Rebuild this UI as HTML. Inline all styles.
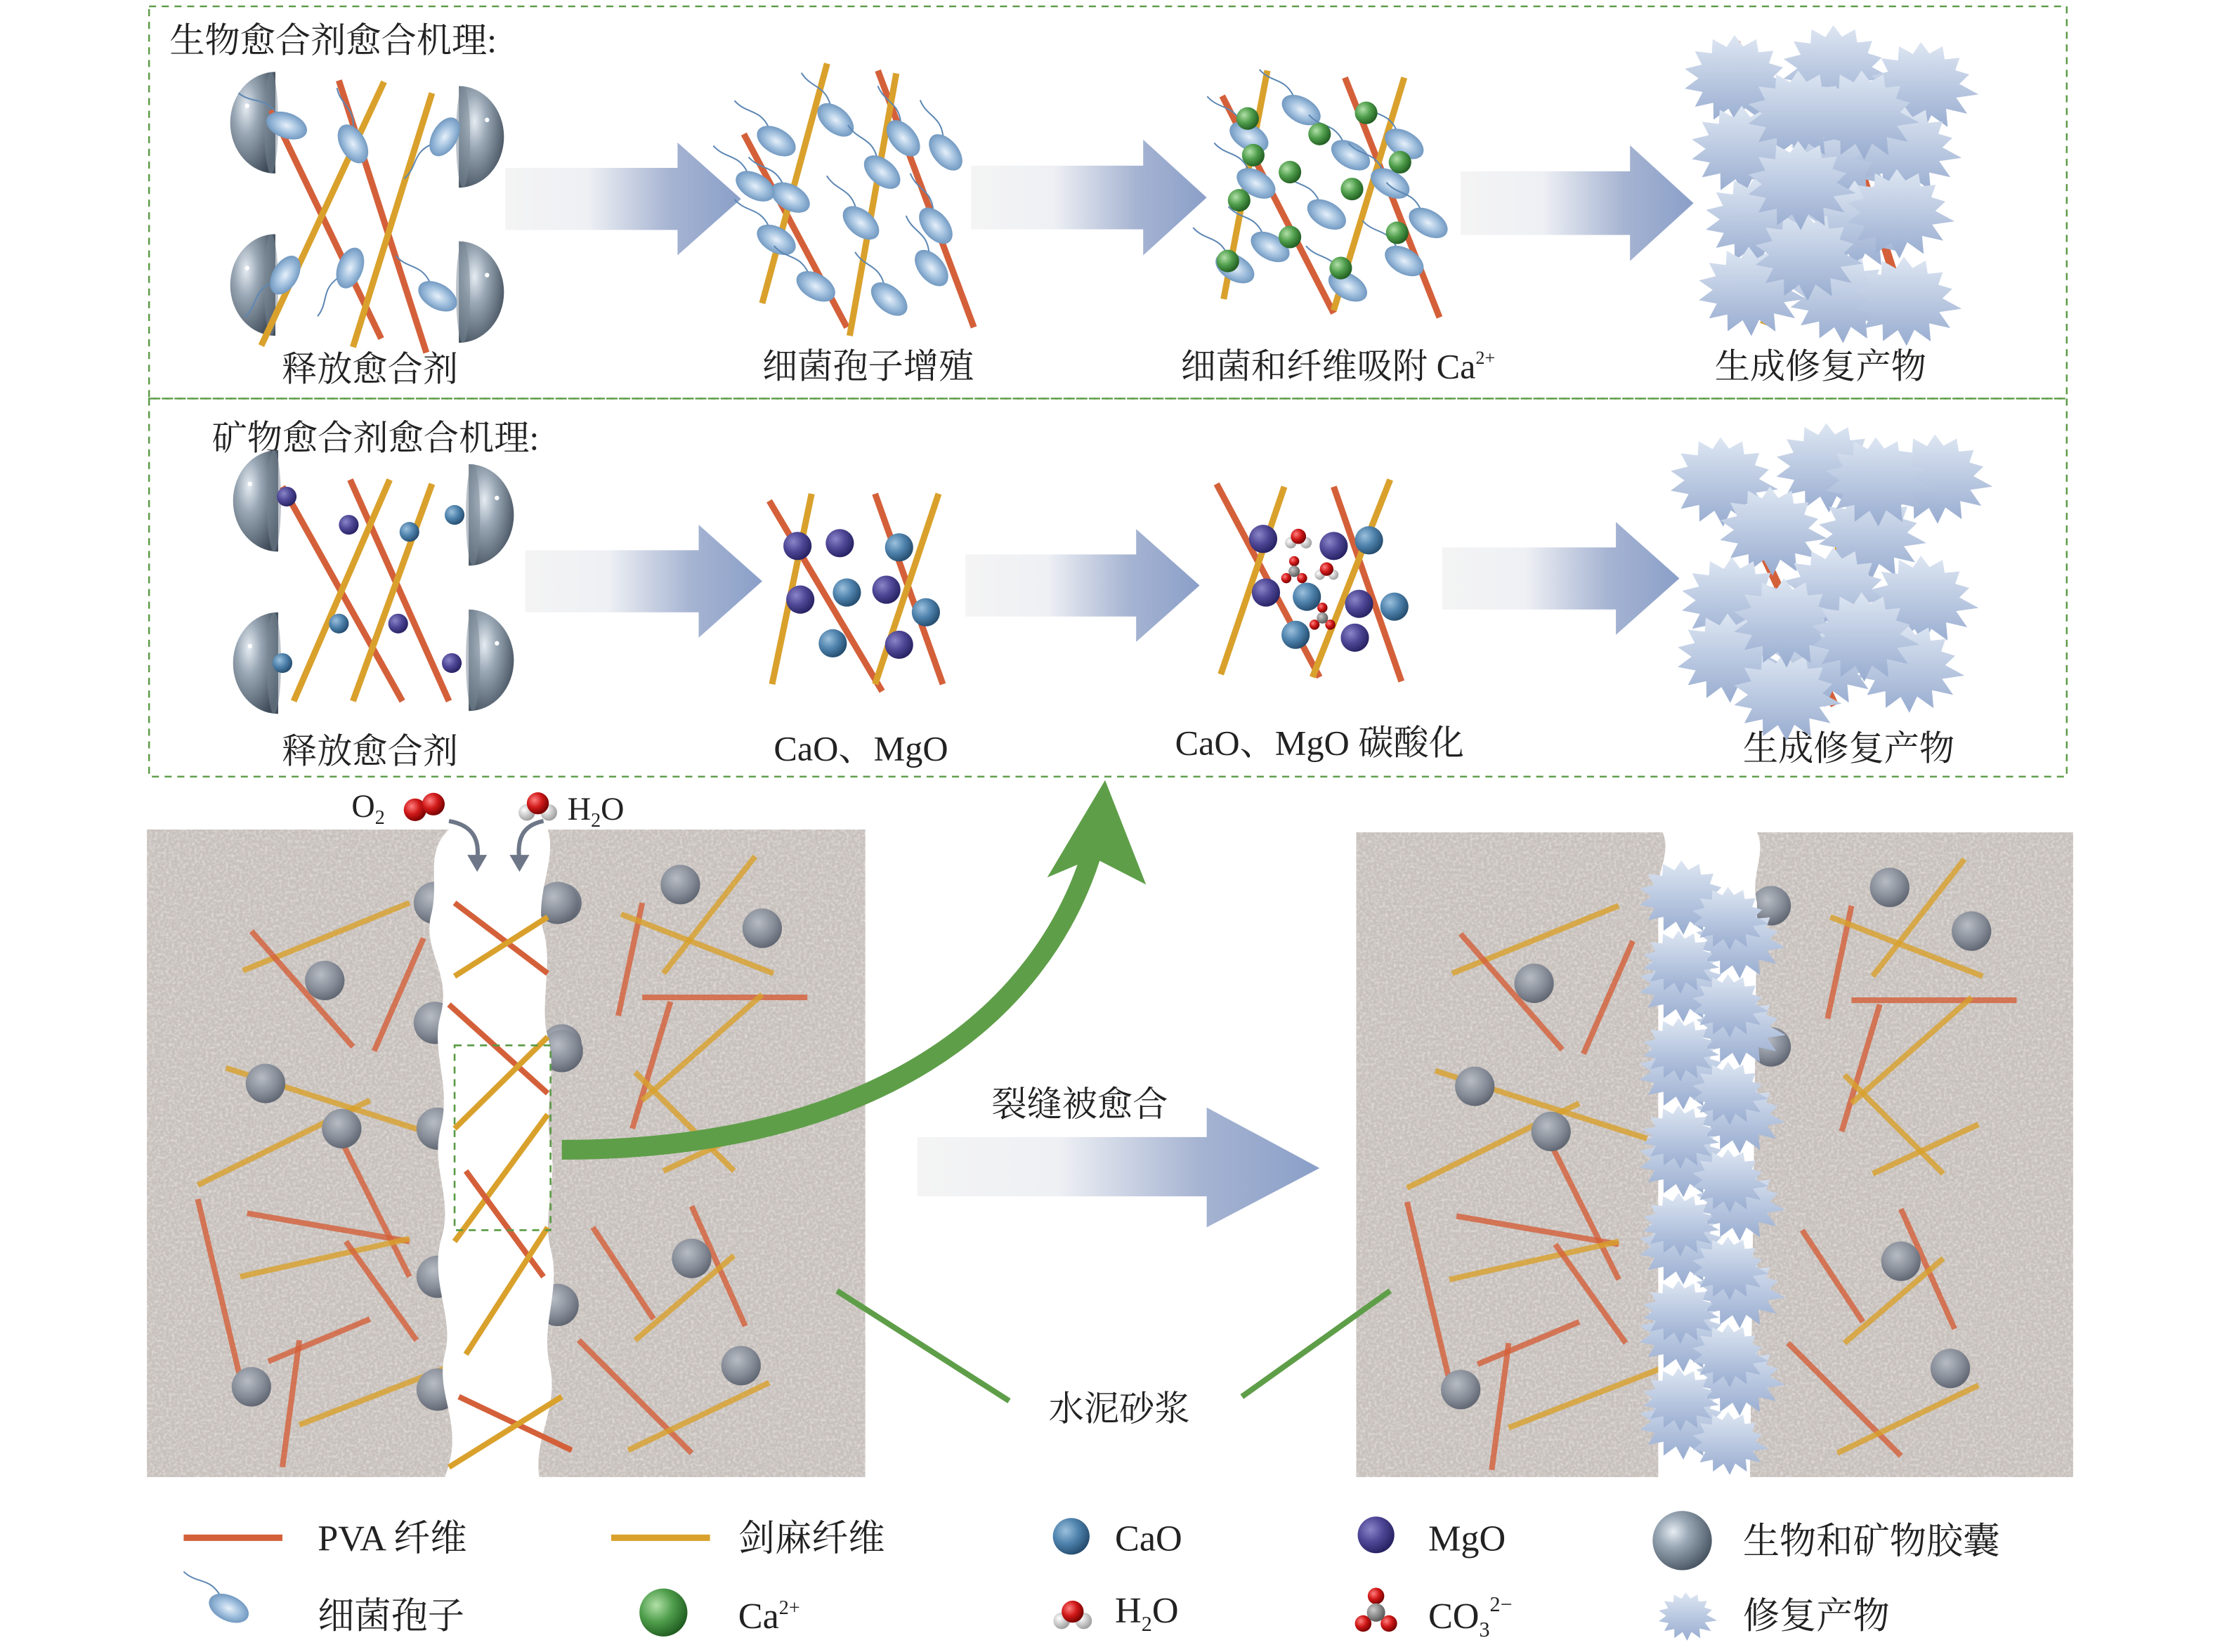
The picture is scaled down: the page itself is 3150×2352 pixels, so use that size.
<!DOCTYPE html>
<html><head><meta charset="utf-8"><style>
html,body{margin:0;padding:0;background:#fff;}
svg{display:block;}
text{font-family:"Liberation Serif","Noto Serif CJK SC",serif;fill:#222;}
</style></head><body>
<svg id="s" width="3150" height="2352" viewBox="0 0 1568 1171" xmlns="http://www.w3.org/2000/svg">
<defs>
<radialGradient id="gCap" cx="0.35" cy="0.35" r="0.75"><stop offset="0" stop-color="#e6ecf2"/><stop offset="0.35" stop-color="#9aa8b6"/><stop offset="1" stop-color="#3f4b58"/></radialGradient>
<radialGradient id="gCaO" cx="0.35" cy="0.35" r="0.7"><stop offset="0" stop-color="#9cc0dc"/><stop offset="0.5" stop-color="#4f83ad"/><stop offset="1" stop-color="#234a6c"/></radialGradient>
<radialGradient id="gMg" cx="0.35" cy="0.35" r="0.7"><stop offset="0" stop-color="#8a86c8"/><stop offset="0.5" stop-color="#4e4796"/><stop offset="1" stop-color="#252060"/></radialGradient>
<radialGradient id="gCa" cx="0.35" cy="0.35" r="0.7"><stop offset="0" stop-color="#b2e0a8"/><stop offset="0.5" stop-color="#4f9e4c"/><stop offset="1" stop-color="#1f5a1f"/></radialGradient>
<radialGradient id="gBac" cx="0.5" cy="0.5" r="0.6"><stop offset="0" stop-color="#e6f0fa"/><stop offset="0.5" stop-color="#9dbddc"/><stop offset="1" stop-color="#5d87b3"/></radialGradient>
<radialGradient id="gSph" cx="0.4" cy="0.35" r="0.7"><stop offset="0" stop-color="#b7bcc4"/><stop offset="0.6" stop-color="#858b96"/><stop offset="1" stop-color="#5a616d"/></radialGradient>
<radialGradient id="gRed" cx="0.35" cy="0.35" r="0.7"><stop offset="0" stop-color="#ff8080"/><stop offset="0.5" stop-color="#d01818"/><stop offset="1" stop-color="#700000"/></radialGradient>
<radialGradient id="gWh" cx="0.35" cy="0.35" r="0.7"><stop offset="0" stop-color="#fff"/><stop offset="1" stop-color="#9a9a9a"/></radialGradient>
<radialGradient id="gGr" cx="0.35" cy="0.35" r="0.7"><stop offset="0" stop-color="#ccc"/><stop offset="1" stop-color="#555"/></radialGradient>
<linearGradient id="gStar" x1="0" y1="0" x2="0" y2="1"><stop offset="0" stop-color="#dde6f2"/><stop offset="1" stop-color="#98acd0"/></linearGradient>
<linearGradient id="gArr" x1="0" y1="0" x2="1" y2="0"><stop offset="0" stop-color="#f4f4f4"/><stop offset="0.35" stop-color="#eef0f4"/><stop offset="0.7" stop-color="#a6b4d2"/><stop offset="1" stop-color="#8a9fc8"/></linearGradient>
<filter id="noise" x="0" y="0" width="100%" height="100%"><feTurbulence type="fractalNoise" baseFrequency="0.55" numOctaves="2" seed="4"/><feColorMatrix type="matrix" values="0 0 0 0 0.5  0 0 0 0 0.5  0 0 0 0 0.5  1.6 0 0 0 -0.5"/></filter>
<filter id="noise2" x="0" y="0" width="100%" height="100%"><feTurbulence type="fractalNoise" baseFrequency="0.5" numOctaves="2" seed="9"/><feColorMatrix type="matrix" values="0 0 0 0 1  0 0 0 0 1  0 0 0 0 1  0 1.8 0 0 -0.7"/></filter>
</defs>

<rect x="105.5" y="4.5" width="1359" height="278" fill="none" stroke="#5a9a44" stroke-width="1.2" stroke-dasharray="5,4"/>
<rect x="105.5" y="282.5" width="1359" height="268" fill="none" stroke="#5a9a44" stroke-width="1.2" stroke-dasharray="5,4"/>

<text x="120" y="37" font-size="25">生物愈合剂愈合机理:</text>
<text x="150" y="319" font-size="25">矿物愈合剂愈合机理:</text>

<g font-size="25" text-anchor="middle">
<text x="262" y="270">释放愈合剂</text>
<text x="615" y="268">细菌孢子增殖</text>
<text x="948" y="268">细菌和纤维吸附 Ca<tspan font-size="13" dy="-10">2+</tspan></text>
<text x="1290" y="268">生成修复产物</text>
<text x="262" y="541">释放愈合剂</text>
<text x="610" y="539">CaO、MgO</text>
<text x="935" y="535">CaO、MgO 碳酸化</text>
<text x="1310" y="539">生成修复产物</text>
</g>

<g id="dyn"></g>

<text x="765" y="791" font-size="25" text-anchor="middle">裂缝被愈合</text>
<text x="793" y="1007" font-size="25" text-anchor="middle">水泥砂浆</text>
<line x1="593" y1="915" x2="715" y2="993" stroke="#5e9e48" stroke-width="4"/>
<line x1="880" y1="990" x2="985" y2="915" stroke="#5e9e48" stroke-width="4"/>
<text x="249" y="579" font-size="23">O<tspan font-size="14" dy="5">2</tspan></text>
<text x="402" y="581" font-size="23">H<tspan font-size="14" dy="5">2</tspan><tspan dy="-5">O</tspan></text>

<g font-size="26">
<text x="225" y="1099">PVA 纤维</text>
<text x="523" y="1099">剑麻纤维</text>
<text x="790" y="1099">CaO</text>
<text x="1012" y="1099">MgO</text>
<text x="1235" y="1101">生物和矿物胶囊</text>
<text x="225" y="1154">细菌孢子</text>
<text x="523" y="1154">Ca<tspan font-size="14" dy="-10">2+</tspan></text>
<text x="790" y="1150">H<tspan font-size="15" dy="6">2</tspan><tspan dy="-6">O</tspan></text>
<text x="1012" y="1154">CO<tspan font-size="15" dy="6">3</tspan><tspan font-size="15" dy="-18">2−</tspan></text>
<text x="1235" y="1154">修复产物</text>
</g>
</svg>
<script>
const NS="http://www.w3.org/2000/svg";
const root=document.getElementById('dyn');
function el(t,a,p){const e=document.createElementNS(NS,t);for(const k in a)e.setAttribute(k,a[k]);(p||root).appendChild(e);return e;}
const OR="#d4603a",YE="#d9a12c";
function ln(x1,y1,x2,y2,c,w,p,o){el('line',{x1,y1,x2,y2,stroke:c,'stroke-width':w||4.5,opacity:o||1},p);}
function sph(x,y,r,g,p){el('circle',{cx:x,cy:y,r,fill:'url(#'+g+')'},p);}
function star(cx,cy,r,p,n){n=n||14;let pts=[];for(let i=0;i<2*n;i++){const a=i*Math.PI/n+0.2;const rr=i%2?r*0.55:r*(0.85+0.15*Math.sin(i*3.1));pts.push((cx+rr*Math.cos(a)).toFixed(1)+','+(cy+rr*Math.sin(a)*0.85).toFixed(1));}el('polygon',{points:pts.join(' '),fill:'url(#gStar)'},p);}
function bac(x,y,ang,p){const g=el('g',{transform:`translate(${x},${y}) rotate(${ang})`},p);el('path',{d:'M-10,-6 C-22,-14 -28,-6 -40,-10',stroke:'#5d87b3','stroke-width':1,fill:'none'},g);el('ellipse',{cx:0,cy:0,rx:15,ry:9,fill:'url(#gBac)'},g);}
function cap(x,y,side,p){
 const rx=32,ry=36;const d=side<0?`M${x},${y-ry} A${rx},${ry} 0 0 0 ${x},${y+ry} Z`:`M${x},${y-ry} A${rx},${ry} 0 0 1 ${x},${y+ry} Z`;
 el('path',{d,fill:'url(#gCap)'},p);el('ellipse',{cx:x+side*3,cy:y,rx:5,ry:ry,fill:'#7a8896',opacity:0.5},p);el('circle',{cx:x+side*20,cy:y-12,r:1.6,fill:'#fff'},p);}
function arrow(x1,x2,yc,h){const hw=h/2,hx=x2-45;el('path',{d:`M${x1},${yc-hw*0.55} L${hx},${yc-hw*0.55} L${hx},${yc-hw} L${x2},${yc} L${hx},${yc+hw} L${hx},${yc+hw*0.55} L${x1},${yc+hw*0.55}Z`,fill:'url(#gArr)'});}
function h2o(x,y,s,p){s=s||1;sph(x-6*s,y+3*s,4.5*s,'gWh',p);sph(x+6*s,y+3*s,4.5*s,'gWh',p);sph(x,y-2*s,6*s,'gRed',p);}
function co3(x,y,s,p){s=s||1;sph(x,y-9*s,4.5*s,'gRed',p);sph(x-7*s,y+6*s,4.5*s,'gRed',p);sph(x+7*s,y+6*s,4.5*s,'gRed',p);sph(x,y,5*s,'gGr',p);}

cap(195,87,-1);cap(325,97,1);cap(195,202,-1);cap(325,207,1);
ln(192,78,270,240,OR);ln(240,57,302,250,OR);ln(272,58,185,245,YE);ln(306,66,250,246,YE);
bac(203,89,20);bac(250,102,60);bac(315,97,-60);bac(202,195,-60);bac(248,190,-70);bac(310,210,30);
arrow(358,525,141,80);
ln(527,95,600,232,OR);ln(622,50,690,232,OR);ln(586,45,540,215,YE);ln(635,52,602,238,YE);
[[550,100],[592,85],[640,98],[560,140],[625,122],[670,108],[550,170],[610,158],[663,160],[578,203],[630,212],[660,190],[535,132]].forEach(([x,y],i)=>bac(x,y,30+(i%3)*10));
arrow(688,855,140,82);
ln(866,68,945,222,OR);ln(953,55,1020,225,OR);ln(898,50,867,212,YE);ln(995,55,945,220,YE);
[[885,97],[922,78],[957,110],[995,102],[890,130],[940,152],[985,130],[900,175],[1012,158],[955,203],[875,190],[995,185]].forEach(([x,y],i)=>bac(x,y,30));
[[884,84],[968,80],[914,122],[992,115],[878,142],[958,134],[914,168],[990,165],[950,190],[888,110],[935,95],[870,185]].forEach(([x,y])=>sph(x,y,8,'gCa'));
arrow(1035,1200,144,82);
ln(1230,30,1300,230,OR,6);ln(1320,40,1250,230,YE,6);ln(1290,30,1350,220,OR,6);
[[1230,55],[1300,48],[1362,60],[1235,105],[1305,110],[1350,105],[1245,155],[1315,158],[1345,150],[1240,205],[1305,210],[1350,212],[1275,80],[1280,180],[1320,80],[1275,130]].forEach(([x,y])=>star(x,y,48));

cap(197,355,-1);cap(332,365,1);cap(197,470,-1);cap(332,468,1);
ln(200,345,285,497,OR);ln(248,340,318,497,OR);ln(276,340,208,497,YE);ln(306,343,250,497,YE);
[[203,352],[247,372],[282,442],[320,470]].forEach(([x,y])=>sph(x,y,7,'gMg'));
[[290,377],[322,365],[240,442],[200,470]].forEach(([x,y])=>sph(x,y,7,'gCaO'));
arrow(372,540,412,80);
ln(545,355,625,490,OR);ln(620,350,668,485,OR);ln(575,350,547,485,YE);ln(665,350,620,485,YE);
[[565,387],[595,385],[567,425],[628,418],[637,457]].forEach(([x,y])=>sph(x,y,10,'gMg'));
[[637,388],[600,420],[656,434],[590,456]].forEach(([x,y])=>sph(x,y,10,'gCaO'));
arrow(684,850,415,80);
ln(862,343,935,480,OR);ln(945,345,993,483,OR);ln(910,345,865,478,YE);ln(985,340,930,480,YE);
[[895,382],[945,387],[897,420],[963,428],[960,452]].forEach(([x,y])=>sph(x,y,10,'gMg'));
[[970,383],[926,423],[988,430],[918,450]].forEach(([x,y])=>sph(x,y,10,'gCaO'));
h2o(920,382,0.9);co3(917,405,0.8);h2o(940,405,0.8);co3(937,438,0.8);
arrow(1022,1190,410,80);
ln(1215,320,1300,500,OR,6);ln(1330,320,1260,500,YE,6);
[[1220,340],[1295,330],[1372,338],[1255,375],[1325,378],[1228,425],[1300,418],[1362,424],[1225,465],[1292,468],[1352,472],[1265,492],[1330,340],[1265,440],[1320,450]].forEach(([x,y])=>star(x,y,48));

function concrete(x,y,w,h){el('rect',{x,y,width:w,height:h,fill:'#c9c1bc'});el('rect',{x,y,width:w,height:h,filter:'url(#noise)',opacity:0.45});el('rect',{x,y,width:w,height:h,filter:'url(#noise2)',opacity:0.5});}
concrete(104,588,509,459);concrete(961,590,508,457);
const fib=[
[172,688,290,640,YE],[178,660,250,742,OR],[265,745,300,665,OR],[160,757,310,805,YE],[140,840,262,780,YE],[175,860,290,880,OR],[240,805,290,905,OR],[170,905,290,878,YE],[140,850,172,985,OR],[190,965,262,935,OR],[200,1040,212,950,OR],[212,1010,320,968,YE],[245,880,295,950,OR],
[438,720,455,640,OR],[440,648,548,690,YE],[470,690,535,607,YE],[455,707,572,707,OR],[448,800,475,710,OR],[455,780,540,705,YE],[450,760,520,830,YE],[470,830,545,795,YE],[420,870,463,935,OR],[490,855,528,940,OR],[450,950,520,890,YE],[410,950,490,1030,OR],[445,1028,545,980,YE]];
function fibers(dx,dy){fib.forEach(f=>ln(f[0]+dx,f[1]+dy,f[2]+dx,f[3]+dy,f[4],4,null,0.8));}
const sp=[[230,695],[188,768],[242,800],[178,983],[482,627],[540,658],[490,892],[525,968],[398,640],[398,740]];
fibers(0,0);sp.forEach(([x,y])=>sph(x,y,14,'gSph'));
fibers(857,2);sp.forEach(([x,y])=>sph(x+857,y+2,14,'gSph'));
[[308,640],[308,725],[310,800],[310,905],[310,985]].forEach(([x,y])=>sph(x,y,15,'gSph'));
[[395,640],[398,745],[395,925]].forEach(([x,y])=>sph(x,y,15,'gSph'));
el('path',{d:'M318,588 C300,605 312,625 305,650 C300,675 320,690 312,720 C305,745 320,770 312,800 C305,830 322,850 312,880 C305,910 322,935 315,960 C308,990 330,1010 315,1047 L382,1047 C378,1020 395,1000 390,970 C382,940 398,915 390,885 C384,860 395,840 390,810 C385,785 395,760 388,735 C382,710 392,685 385,660 C378,635 395,610 388,588 Z',fill:'#fff'});
[[322,640,388,690,OR],[322,692,388,650,YE],[318,712,388,775,OR],[322,800,388,735,YE],[322,880,388,790,YE],[330,830,385,905,OR],[330,960,388,870,YE],[325,990,405,1028,OR],[318,1040,398,990,YE]].forEach(f=>ln(...f.slice(0,4),f[4],4));
el('rect',{x:322,y:741,width:68,height:131,fill:'none',stroke:'#5a9a44','stroke-width':1.3,'stroke-dasharray':'5,4'});
el('path',{d:'M318,582 C335,585 340,595 338,610',stroke:'#6e7787','stroke-width':3,fill:'none'});el('polygon',{points:'331,606 345,606 338,618',fill:'#6e7787'});
el('path',{d:'M385,582 C370,585 366,595 368,610',stroke:'#6e7787','stroke-width':3,fill:'none'});el('polygon',{points:'361,606 375,606 368,618',fill:'#6e7787'});
sph(294,574,8,'gRed');sph(307,570,8,'gRed');h2o(381,572,1.3);
el('path',{d:'M1178,590 C1185,605 1172,620 1175,640 L1175,1047 L1240,1047 L1245,640 C1240,620 1252,605 1245,590 Z',fill:'#fff'});
for(let i=0;i<13;i++){star(i%2?1232:1192,635+i*31,40);}
for(let i=0;i<13;i++){star(i%2?1190:1225,650+i*31,34);}
el('path',{d:'M398,815 C620,815 740,720 775,600',stroke:'#5e9e48','stroke-width':14,fill:'none'});
el('polygon',{points:'783,553 812,627 775,608 742,622',fill:'#5e9e48'});
el('path',{d:'M650,806 L855,806 L855,785 L935,828 L855,870 L855,848 L650,848 Z',fill:'url(#gArr)'});

ln(130,1090,200,1090,OR,4.5);ln(433,1090,503,1090,YE,4.5);
sph(759,1089,13,'gCaO');sph(975,1088,13,'gMg');sph(1192,1092,21,'gCap');
bac(162,1140,25);sph(470,1143,17,'gCa');h2o(760,1145,1.3);co3(975,1143,1.3);star(1195,1145,26);
</script>
</body></html>
